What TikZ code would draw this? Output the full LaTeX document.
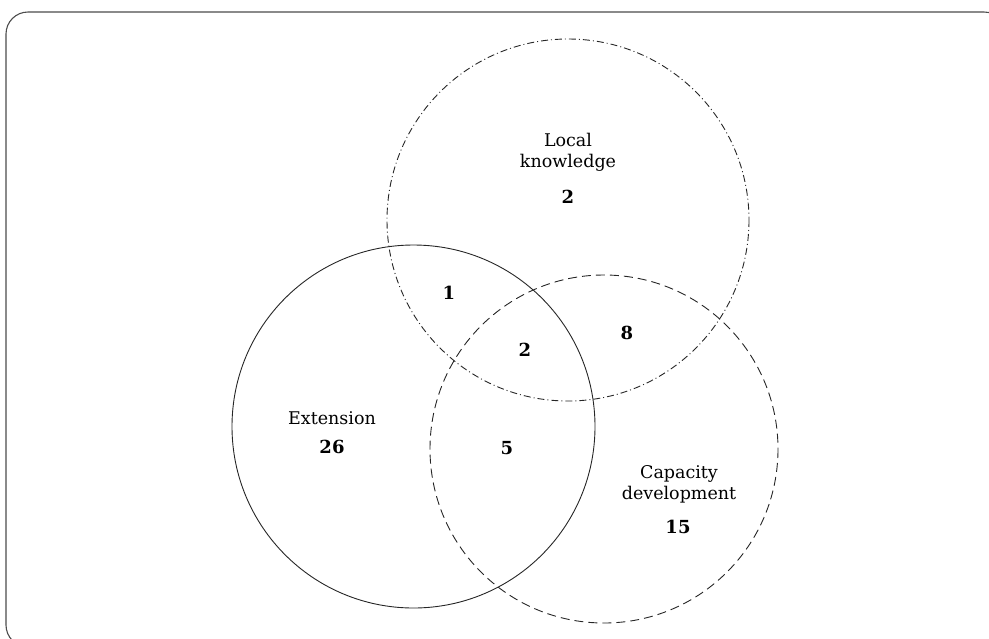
\documentclass[tikz,border=0pt]{standalone}
\usepackage{fontspec}
\setmainfont{DejaVu Serif}
\begin{document}
\begin{tikzpicture}[x=1pt,y=-1pt,
  setline/.style={line width=0.9pt,draw=black!85},
  lbl/.style={font=\fontsize{17.5}{21}\selectfont,align=center,text=black,inner sep=0pt},
  num/.style={font=\fontsize{18}{20}\selectfont\bfseries,text=black,inner sep=0pt}]
  \useasboundingbox (0,0) rectangle (989,638);
  \begin{scope}
    \clip (0,0) rectangle (989,638);
    \draw[line width=1.1pt,draw=black!70,rounded corners=22pt] (6,12) rectangle (1006,647);
  \end{scope}

  % the three sets
  \draw[setline,dash pattern=on 7pt off 3pt on 1pt off 3pt] (568,220) circle[radius=181];
  \draw[setline] (413.5,426.5) circle[radius=181.5];
  \draw[setline,dash pattern=on 9pt off 5pt] (604,449) circle[radius=174];

  % set labels
  \node[lbl] (lk) at (568,152) {Local\\knowledge};
  \node[num] (nlk) at (568,197) {2};
  \node[lbl] (ext) at (332,418) {Extension};
  \node[num] (next) at (332,447) {26};
  \node[lbl] (cap) at (679,484) {Capacity\\development};
  \node[num] (ncap) at (678,527) {15};

  % overlap counts
  \node[num] (n1) at (449,293) {1};
  \node[num] (n2) at (525,350) {2};
  \node[num] (n8) at (627,333) {8};
  \node[num] (n5) at (507,448) {5};
\end{tikzpicture}
\end{document}
